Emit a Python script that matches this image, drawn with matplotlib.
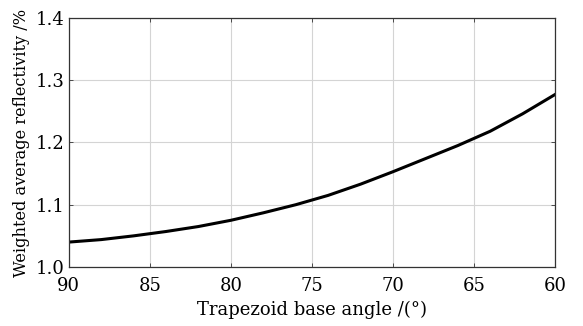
import matplotlib
matplotlib.use("Agg")
import matplotlib.pyplot as plt

# Trapezoid base angle (deg) and weighted average reflectivity (%)
angle = [90, 88, 86, 84, 82, 80, 78, 76, 74, 72, 70, 68, 66, 64, 62, 60]
reflectivity = [1.040, 1.044, 1.050, 1.057, 1.065, 1.075, 1.087, 1.100,
                1.115, 1.133, 1.153, 1.174, 1.195, 1.218, 1.246, 1.277]

x_ticks = [90, 85, 80, 75, 70, 65, 60]
y_ticks = [1.0, 1.1, 1.2, 1.3, 1.4]

plt.rcParams['font.family'] = ['DejaVu Serif']

fig = plt.figure(figsize=(5.83, 3.26), dpi=100)
ax = fig.add_axes([0.118, 0.181, 0.834, 0.764])

ax.plot(angle, reflectivity, color='black', linewidth=2.2)

ax.set_xlim(90, 60)
ax.set_ylim(1.0, 1.4)
ax.set_xticks(x_ticks)
ax.set_yticks(y_ticks)
ax.set_yticklabels([f"{v:.1f}" for v in y_ticks])
ax.grid(True, color='#d4d4d4', linewidth=0.8)
ax.tick_params(direction='in', length=3, width=0.6, labelsize=13,
               top=True, right=True, colors='#333333', labelcolor='black')
ax.tick_params(axis='x', pad=7)
ax.tick_params(axis='y', pad=3)
for s in ax.spines.values():
    s.set_linewidth(0.9)
    s.set_color('#333333')

ax.set_xlabel('Trapezoid base angle /(°)', fontsize=13, labelpad=4)
ax.set_ylabel('Weighted average reflectivity /%', fontsize=11.7, labelpad=4)

fig.savefig('out.png', dpi=100)
